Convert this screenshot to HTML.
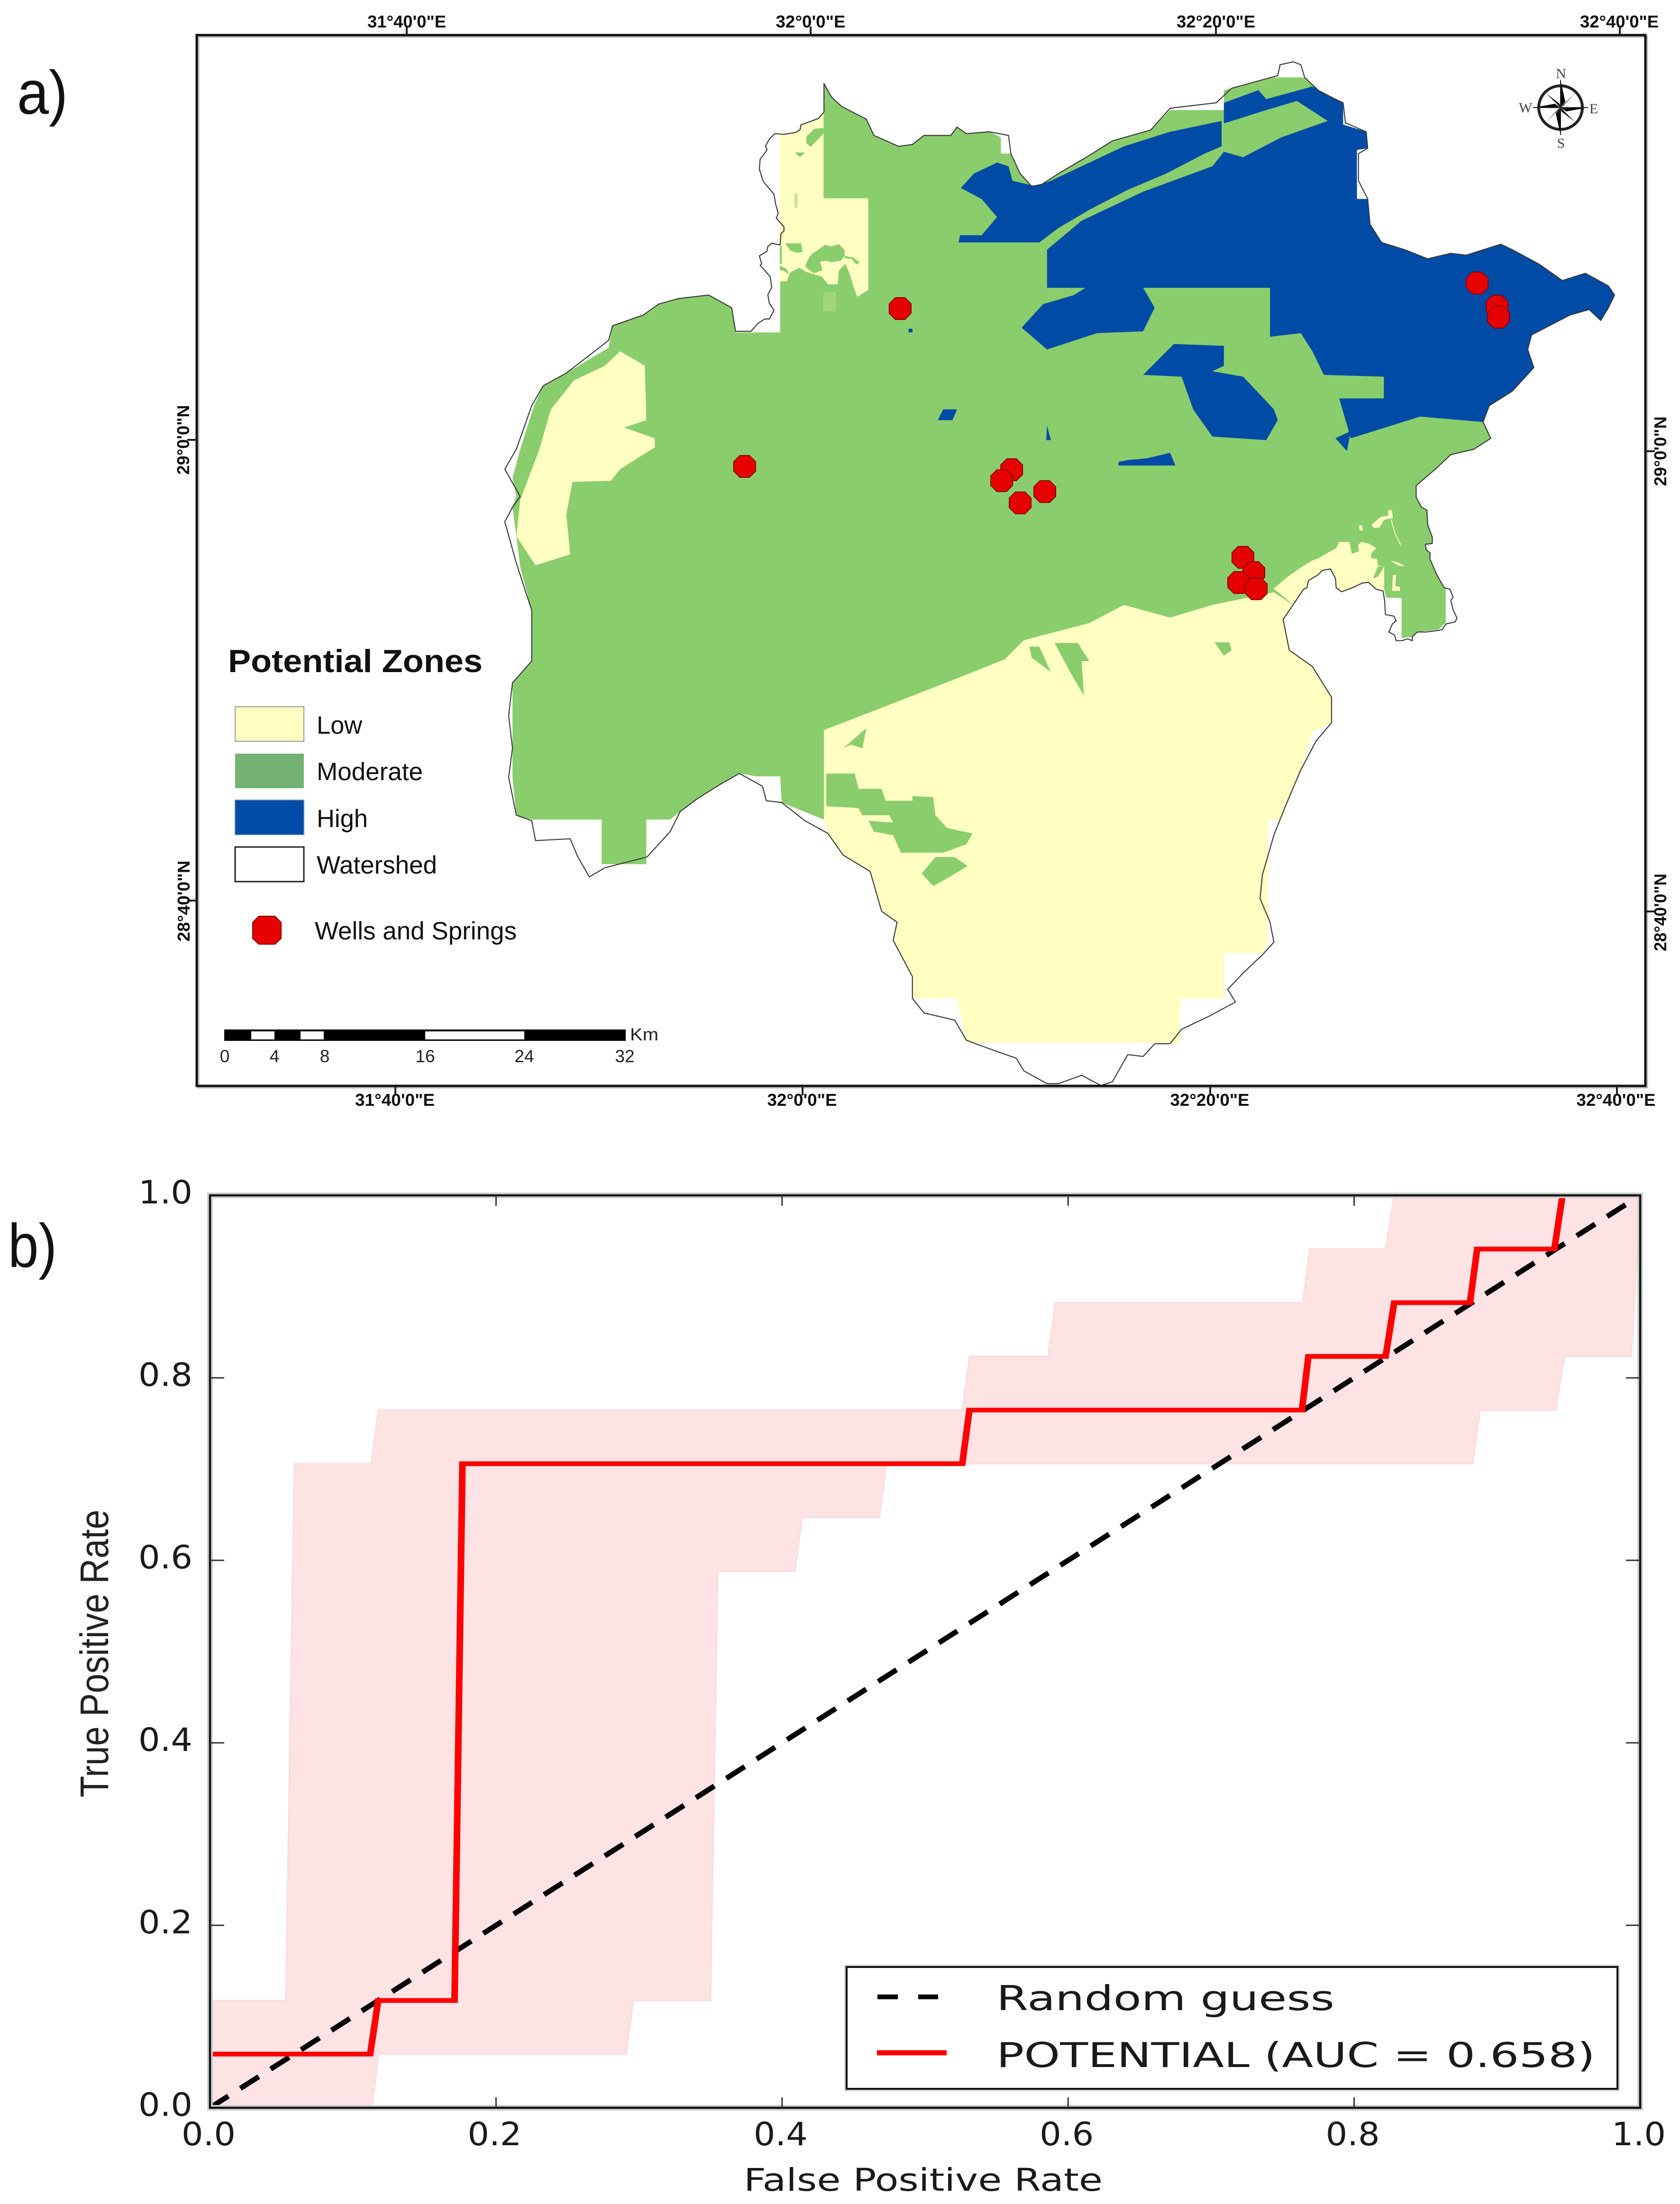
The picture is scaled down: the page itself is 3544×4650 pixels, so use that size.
<!DOCTYPE html>
<html lang="en">
<head>
<meta charset="utf-8">
<title>Potential zones map and ROC curve</title>
<style>
html,body{margin:0;padding:0;background:#fff;}
svg{display:block;}
text{font-family:"Liberation Sans",sans-serif;}
.dv{font-family:"DejaVu Sans",sans-serif;fill:#1a1a1a;}
.maplab{font-weight:bold;font-size:36px;fill:#111;}
.leg{font-size:53px;fill:#111;}
.sb{font-size:37px;fill:#222;}
.cmp{font-size:30px;fill:#444;}
.cmp text{font-family:"Liberation Serif",serif;}
</style>
</head>
<body>
<svg id="fig" xmlns="http://www.w3.org/2000/svg" width="3544" height="4650" viewBox="0 0 3544 4650">
<rect width="3544" height="4650" fill="#fff"/>

<text x="36" y="240" font-size="130" textLength="107" lengthAdjust="spacingAndGlyphs" fill="#111">a)</text>
<text x="17" y="2673" font-size="130" textLength="103" lengthAdjust="spacingAndGlyphs" fill="#111">b)</text>

<!-- MAP -->
<g>
<g transform="translate(1000,60) scale(1.6224,.7653)">
<polygon fill="#8acd6c" points="455,152 465,190 478,215 510,250 520,295 552,325 570,320 585,295 620,295 628,272 640,290 670,285 685,300 685,345 698,345 710,400 725,435 738,430 760,400 800,350 830,310 880,280 905,225 975,225 975,170 1040,135 1080,135 1100,175 1130,205 1130,265 1160,285 1162,330 1148,335 1148,470 1162,470 1165,540 1180,590 1210,610 1240,635 1270,620 1290,625 1335,595 1350,610 1385,650 1415,695 1445,675 1475,710 1483,735 1475,770 1465,805 1450,775 1425,790 1375,845 1370,885 1378,935 1350,1000 1320,1040 1312,1085 1322,1130 1300,1160 1270,1175 1250,1215 1225,1260 1225,1293 1232,1320 1239,1328 1240,1368 1246,1403 1246,1420 1237,1422 1238,1437 1243,1446 1243,1463 1252,1507 1259,1533 1263.5,1546 1263.5,1638 1254,1657 1226.5,1664 1220,1677 1206,1681 1206,1570 1186.5,1570 1183,1544 1173,1546 1163,1527 1155,1529 1142,1542 1128,1553 1121,1542 1120,1516 1113.5,1490 1103,1494 1097,1507 1085,1522 1083,1542 1078.6,1546 1065,1589 1052,1629 1060,1714 1090,1759 1115,1844 1115,1914 1090,1939 1075,2044 1055,2144 1050,2181 1032,2181 1032,2519 1025,2549 975,2549 975,2674 918,2674 918,2794 640,2796 628,2674 570,2674 570,2614 545,2514 550,2464 530,2434 515,2324 480,2279 460,2219 455,2181 400,2134 398,2062 368,2062 345,2054 320,2084 290,2124 268,2159 255,2181 224,2181 224,2304 166,2304 166,2181 75,2181 55,2169 50,2064 50,1804 75,1744 75,1604 60,1484 55,1400 50,1320 55,1290 50,1240 60,1160 78,1040 90,985 120,950 175,880 180,820 220,790 240,760 265,745 305,735 335,770 340,838 398,838 398,300 440,280 455,230"/>
<polygon fill="#ffffc1" points="190,890 222,930 224,1080 195,1100 235,1130 235,1155 190,1215 178,1247 128,1250 120,1340 125,1450 80,1480 55,1400 60,1300 85,1160 100,1050 130,970 170,930"/>
<polygon fill="#004ba5" points="633,440 650,400 680,370 695,380 700,420 730,435 750,420 800,370 845,325 905,285 972,255 972,325 950,345 900,400 850,445 800,500 760,550 735,590 630,590 632,570 660,570 680,520 660,470"/>
<polygon fill="#004ba5" points="745,610 790,530 870,450 960,380 975,340 1000,355 1050,300 1110,255 1070,200 1030,225 975,262 975,205 1020,170 1030,195 1090,160 1130,205 1130,265 1160,285 1162,330 1148,335 1148,470 1162,470 1165,540 1180,590 1210,610 1240,635 1270,620 1290,625 1335,595 1350,610 1385,650 1415,695 1445,675 1475,710 1483,735 1475,770 1465,805 1450,775 1425,790 1375,845 1370,885 1378,935 1350,1000 1320,1040 1312,1085 1230,1070 1140,1130 1125,1020 1183,1020 1183,960 1105,955 1090,890 1075,840 1035,850 1035,715 870,715 885,770 870,835 810,840 745,885 712,825 740,760 780,735 795,715 745,715"/>
<polygon fill="#004ba5" points="870,955 910,870 975,875 975,930 960,945 1000,960 1040,1050 1045,1080 1030,1135 960,1125 935,1050 920,960"/>
<polygon fill="#004ba5" points="610,1050 628,1050 622,1080 603,1080"/>
<polygon fill="#004ba5" points="745,1095 750,1135 744,1135"/>
<polygon fill="#004ba5" points="1120,1130 1140,1110 1135,1165"/>
<polygon fill="#004ba5" points="838,1195 850,1190 875,1185 905,1170 912,1205 838,1205"/>
<polygon fill="#004ba5" points="565,828 570,828 570,838 565,838"/>
</g>
<g transform="translate(1000,1150) scale(1.6224,.7653)">
<polygon fill="#ffffc1" points="455,510 510,465 625,370 690,315 715,262 800,215 845,165 905,200 960,165 1040,130 1065,165 1052,205 1060,290 1090,335 1115,420 1115,490 1090,515 1075,620 1055,720 1050,757 1032,757 1032,1095 1025,1125 975,1125 975,1250 918,1250 918,1372 640,1372 628,1250 570,1250 570,1190 545,1090 550,1040 530,1010 515,900 480,855 460,795 455,757"/>
<polygon fill="#8acd6c" points="458,630 495,630 500,672 530,672 535,705 570,705 570,692 597,695 600,745 615,780 648,795 640,825 610,848 555,848 545,800 520,790 513,760 545,765 540,745 505,745 500,725 458,720"/>
<polygon fill="#8acd6c" points="600,860 625,860 642,885 610,925 597,940 582,905"/>
<polygon fill="#8acd6c" points="755,270 785,270 800,320 790,320 793,415 775,350"/>
<polygon fill="#8acd6c" points="722,280 735,280 750,350 725,310"/>
<polygon fill="#8acd6c" points="963,268 982,268 985,290 975,305"/>
<polygon fill="#8acd6c" points="480,560 510,505 505,560 490,550"/>
</g>
<g transform="translate(1600,250) scale(.33333)">
<polygon fill="#ffffc1" points="135,100 240,95 270,45 360,15 412,-40 412,505 695,505 695,1085 625,1130 600,1060 580,990 550,920 510,960 500,1050 440,1050 400,1000 300,970 260,945 200,975 180,1030 135,1030"/>
<polygon fill="#8acd6c" points="303,115 355,65 412,60 412,95 360,150 330,180 303,155"/>
<polygon fill="#8acd6c" points="230,215 295,215 262,245"/>
<polygon fill="#8acd6c" points="170,790 270,790 280,845 245,850 200,835"/>
<polygon fill="#8acd6c" points="365,840 420,800 460,810 510,795 545,835 545,870 520,900 460,910 430,900 390,905 405,960 350,980 310,950 295,935 320,880 340,855"/>
<polygon fill="#8acd6c" points="135,930 175,950 195,985 150,960 135,960"/>
<polygon fill="#8acd6c" points="545,870 600,880 640,910 620,925 590,890 545,885"/>
<polygon fill="#8acd6c" points="135,810 148,810 148,920 135,920"/>
<rect x="410" y="1100" width="80" height="120" fill="#a3d67c"/>
<rect x="228" y="475" width="20" height="90" fill="#cfe39a"/>
</g>
<g transform="translate(2750,1050) scale(.33333)">
<polygon fill="#ffffc1" points="-190,576 -100,500 0,430 50,400 100,380 150,350 205,320 225,280 290,280 300,330 305,355 350,340 345,300 365,280 410,290 460,320 430,350 425,380 465,390 470,430 510,435 510,575 505,590 460,580 410,535 370,540 310,570 240,595 205,570 200,510 170,450 120,460 90,490 30,525 20,570 0,580 -65,678"/>
<polygon fill="#ffffc1" points="350,175 370,175 375,210 355,205"/>
<polygon fill="#ffffc1" points="430,170 490,120 535,115 535,80 560,80 565,130 510,140 480,190 440,190"/>
<polygon fill="#ffffc1" points="565,490 585,490 580,560 610,565 610,590 560,590"/>
<polygon fill="#ffffc1" points="550,400 600,410 640,435 600,430"/>
<polyline fill="none" stroke="#ffffc1" stroke-width="6" points="555,140 580,230 615,300"/>
<polygon fill="#8acd6c" points="470,435 510,435 470,500 440,510"/>
</g>
<g transform="translate(1000,60) scale(1.6224,.7653)">
<polygon fill="none" stroke="#3a3a3a" stroke-width="2.2" vector-effect="non-scaling-stroke" stroke-linejoin="round" points="455,152 465,190 478,215 510,250 520,295 552,325 570,320 585,295 620,295 628,272 640,290 670,285 695,295 698,345 710,400 725,435 738,430 760,400 800,350 830,310 880,280 905,220 965,205 985,165 1045,130 1048,100 1065,92 1075,100 1080,135 1100,175 1130,205 1133,260 1160,285 1162,330 1150,345 1150,420 1162,470 1165,540 1180,590 1210,610 1240,635 1270,620 1290,625 1335,595 1350,610 1385,650 1415,695 1445,675 1475,710 1483,735 1475,770 1465,805 1450,775 1425,790 1375,845 1370,885 1378,935 1350,1000 1320,1040 1312,1085 1322,1130 1300,1160 1270,1175 1250,1215 1225,1260 1225,1293 1232,1320 1239,1328 1240,1368 1246,1403 1246,1420 1237,1422 1238,1437 1243,1446 1243,1463 1252,1507 1259,1533 1261.5,1542 1269,1546 1273,1568 1270,1577 1273,1603 1278,1625 1276,1635.5 1263.5,1642 1259,1657 1254,1659.5 1238,1664 1226.5,1664 1220,1677 1220,1688 1214,1683 1206,1688 1199,1688 1197,1672.5 1189.5,1664 1194,1642 1199,1633 1196,1620 1185,1616 1184,1577 1182,1551 1173,1546 1163,1527 1155,1529 1142,1542 1128,1553 1121,1542 1120,1516 1113.5,1490 1103,1494 1097,1507 1085,1522 1083,1542 1078.6,1546 1065,1589 1052,1629 1060,1714 1090,1759 1115,1844 1115,1914 1095,1964 1075,2044 1055,2144 1040,2224 1025,2334 1022,2399 1035,2464 1040,2519 1025,2554 1000,2604 980,2649 990,2684 955,2724 920,2759 905,2799 885,2799 870,2834 850,2829 830,2904 815,2914 790,2886 760,2909 745,2909 715,2874 705,2839 665,2809 640,2789 625,2734 585,2714 570,2674 570,2614 545,2514 550,2464 530,2434 515,2324 480,2279 460,2219 430,2184 400,2134 380,2129 375,2089 345,2054 320,2084 290,2124 268,2159 255,2214 225,2284 170,2314 150,2339 135,2284 125,2234 80,2239 75,2184 55,2169 45,2064 50,1984 45,1894 50,1804 75,1744 75,1604 55,1474 40,1360 50,1320 60,1290 40,1215 55,1160 75,1040 90,985 120,950 175,860 180,820 220,790 240,760 265,745 305,735 335,770 340,835 360,835 369.8,812 378,801 384,801 390,777 384,758 382,734 387,714 385,684 372,653 374,649 371,627 381,614 382,601 387,592 398,597 399,566 403,558 403,547 393,523 395.5,510 392,483 390,457 376,422 371,388 372,361 381,335 379,324 384,305 391,290 403,292 418,287 424,279 425,266 448,248 455,230"/>
</g>
<g id="wells"></g>
</g>

<!-- map frame and graticule -->
<g>
<rect x="418" y="77" width="3056" height="2217" fill="none" stroke="#bbb" stroke-width="5"/>
<rect x="415" y="74" width="3056" height="2217" fill="none" stroke="#111" stroke-width="5"/>
<g stroke="#222" stroke-width="4">
<line x1="858" y1="56" x2="858" y2="74"/>
<line x1="1710" y1="56" x2="1710" y2="74"/>
<line x1="2565" y1="56" x2="2565" y2="74"/>
<line x1="3417" y1="56" x2="3417" y2="74"/>
<line x1="834" y1="2291" x2="834" y2="2311"/>
<line x1="1693" y1="2291" x2="1693" y2="2311"/>
<line x1="2553" y1="2291" x2="2553" y2="2311"/>
<line x1="3411" y1="2291" x2="3411" y2="2311"/>
<line x1="395" y1="928" x2="415" y2="928"/>
<line x1="395" y1="1900" x2="415" y2="1900"/>
<line x1="3471" y1="952" x2="3491" y2="952"/>
<line x1="3471" y1="1923" x2="3491" y2="1923"/>
</g>
<g class="maplab" text-anchor="middle">
<text x="858" y="58" textLength="166" lengthAdjust="spacingAndGlyphs">31°40'0"E</text>
<text x="1710" y="58" textLength="147" lengthAdjust="spacingAndGlyphs">32°0'0"E</text>
<text x="2565" y="58" textLength="166" lengthAdjust="spacingAndGlyphs">32°20'0"E</text>
<text x="3416" y="58" textLength="166" lengthAdjust="spacingAndGlyphs">32°40'0"E</text>
<text x="833" y="2333" textLength="168" lengthAdjust="spacingAndGlyphs">31°40'0"E</text>
<text x="1692" y="2333" textLength="147" lengthAdjust="spacingAndGlyphs">32°0'0"E</text>
<text x="2552" y="2333" textLength="167" lengthAdjust="spacingAndGlyphs">32°20'0"E</text>
<text x="3409" y="2333" textLength="167" lengthAdjust="spacingAndGlyphs">32°40'0"E</text>
<text transform="translate(399,928) rotate(-90)" textLength="147" lengthAdjust="spacingAndGlyphs">29°0'0"N</text>
<text transform="translate(400,1901) rotate(-90)" textLength="171" lengthAdjust="spacingAndGlyphs">28°40'0"N</text>
<text transform="translate(3515,952) rotate(-90)" textLength="147" lengthAdjust="spacingAndGlyphs">29°0'0"N</text>
<text transform="translate(3515,1925) rotate(-90)" textLength="164" lengthAdjust="spacingAndGlyphs">28°40'0"N</text>
</g>
</g>

<!-- compass -->
<g transform="translate(3292,227)">
<circle r="46" fill="none" stroke="#222" stroke-width="6"/>
<polygon fill="#000" points="0,-58 10,-12 0,0"/>
<polygon fill="#000" points="0,58 -10,12 0,0"/>
<polygon fill="#000" points="58,0 12,8 0,0"/>
<polygon fill="#000" points="-58,0 -12,-8 0,0"/>
<polygon fill="#000" points="-30,-30 -2,-8 0,0"/>
<polygon fill="#000" points="30,30 2,8 0,0"/>
<polygon fill="#000" points="30,-30 6,-4 0,0"/>
<polygon fill="#000" points="-30,30 -6,4 0,0"/>
<line x1="0" y1="-58" x2="0" y2="58" stroke="#222" stroke-width="2"/>
<line x1="-58" y1="0" x2="58" y2="0" stroke="#222" stroke-width="2"/>
<g class="cmp" text-anchor="middle">
<text x="1" y="-62">N</text>
<text x="1" y="85">S</text>
<text x="-74" y="10">W</text>
<text x="70" y="12">E</text>
</g>
</g>

<!-- map legend -->
<g>
<text x="481" y="1418" font-size="68" font-weight="bold" fill="#111" textLength="537" lengthAdjust="spacingAndGlyphs">Potential Zones</text>
<rect x="496" y="1491" width="145" height="73" fill="#ffffc1" stroke="#999" stroke-width="2"/>
<rect x="496" y="1590" width="145" height="73" fill="#74b274"/>
<rect x="496" y="1688" width="145" height="73" fill="#004ba5" stroke="#6585b0" stroke-width="2"/>
<rect x="496" y="1787" width="145" height="73" fill="#fff" stroke="#222" stroke-width="3"/>
<g class="leg">
<text x="668" y="1548" textLength="96" lengthAdjust="spacingAndGlyphs">Low</text>
<text x="668" y="1646" textLength="224" lengthAdjust="spacingAndGlyphs">Moderate</text>
<text x="668" y="1745" textLength="108" lengthAdjust="spacingAndGlyphs">High</text>
<text x="668" y="1843" textLength="254" lengthAdjust="spacingAndGlyphs">Watershed</text>
<text x="664" y="1982" textLength="426" lengthAdjust="spacingAndGlyphs">Wells and Springs</text>
</g>
<polygon fill="#e60000" stroke="#8b0000" stroke-width="2" points="546,1933 580,1933 593,1946 593,1980 580,1992 546,1992 533,1980 533,1946"/>
</g>

<!-- scale bar -->
<g>
<rect x="473" y="2172" width="847" height="24" fill="#000"/>
<rect x="530" y="2176" width="49" height="17" fill="#fff"/>
<rect x="634" y="2176" width="49" height="17" fill="#fff"/>
<rect x="897" y="2176" width="209" height="17" fill="#fff"/>
<g class="sb" text-anchor="middle">
<text x="474" y="2241">0</text>
<text x="579" y="2241">4</text>
<text x="685" y="2241">8</text>
<text x="897" y="2241">16</text>
<text x="1106" y="2241">24</text>
<text x="1318" y="2241">32</text>
</g>
<text class="sb" x="1329" y="2195" textLength="60" lengthAdjust="spacingAndGlyphs">Km</text>
</g>

<!-- ROC chart -->
<g id="roc"></g>

<script>
var wellLon = [32.0767,31.9490,32.1683,32.1601,32.1955,32.1753,32.5507,32.5670,32.5682,32.3583,32.3672,32.3548,32.3692];
var wellLat = [29.0991,28.9849,28.9825,28.9746,28.9667,28.9585,29.1176,29.1008,29.0929,28.9191,28.9081,28.9009,28.8964];

var meanFpr = [0,0.112,0.1176,0.171,0.1765,0.526,0.531,0.7635,0.768,0.822,0.828,0.881,0.886,0.940,0.9457,1];
var meanTpr = [0.0588,0.0588,0.1176,0.1176,0.7059,0.7059,0.7647,0.7647,0.8235,0.8235,0.8824,0.8824,0.9412,0.9412,1,1];
var upperFpr = [0,0.053,0.059,0.1127,0.1177,0.526,0.531,0.586,0.591,0.764,0.769,0.822,0.828,1];
var upperTpr = [0.1176,0.1176,0.7059,0.7059,0.7647,0.7647,0.8235,0.8235,0.8824,0.8824,0.9412,0.9412,1,1];
var lowerFpr = [0,0.113,0.118,0.291,0.296,0.35,0.355,0.409,0.414,0.468,0.473,0.883,0.888,0.941,0.947,0.994,1];
var lowerTpr = [0,0,0.0588,0.0588,0.1176,0.1176,0.588,0.588,0.647,0.647,0.7059,0.7059,0.7647,0.7647,0.8235,0.8235,1];
var guessFpr = [0,1];
var guessTpr = [0,1];
var tickValues = [0,0.2,0.4,0.6,0.8,1];
var tickLabels = ["0.0","0.2","0.4","0.6","0.8","1.0"];
var legendLabels = ["Random guess","POTENTIAL (AUC = 0.658)"];

var NS = "http://www.w3.org/2000/svg";
var STRETCH = 1.4;
function make(tag, attrs, parent, txt){
  var e = document.createElementNS(NS, tag);
  for (var k in attrs) e.setAttribute(k, attrs[k]);
  if (txt) e.textContent = txt;
  parent.appendChild(e);
  return e;
}
function lonX(lon){ return 846 + (lon - 31.6667) * 2568; }
function latY(lat){ return 940 + (29 - lat) * 2916; }
function rocX(v){ return 443 + v * 3017; }
function rocY(v){ return 4447 - v * 1925; }
function pts(xs, ys){
  return xs.map(function(x,i){ return rocX(x).toFixed(1) + "," + rocY(ys[i]).toFixed(1); });
}
function ptsStretched(xs, ys){
  return xs.map(function(x,i){ return (rocX(x)/STRETCH).toFixed(2) + "," + rocY(ys[i]).toFixed(1); });
}

var wells = document.getElementById("wells");
wellLon.forEach(function(lon,i){
  var cx = lonX(lon), cy = latY(wellLat[i]), r = 23, s = 10;
  var p = [[-s,-r],[s,-r],[r,-s],[r,s],[s,r],[-s,r],[-r,s],[-r,-s]].map(function(q){ return (cx+q[0]).toFixed(1)+","+(cy+q[1]).toFixed(1); }).join(" ");
  var o = make("polygon",{points:p,fill:"#e60000",stroke:"#8b0000","stroke-width":2},wells);
  
  
});

var roc = document.getElementById("roc");
var band = make("polygon",{points:pts(upperFpr,upperTpr).concat(pts(lowerFpr,lowerTpr).reverse()).join(" "),fill:"#fee3e4",stroke:"#fddcdc","stroke-width":3},roc);



var guess = make("polyline",{points:pts(guessFpr,guessTpr).join(" "),fill:"none",stroke:"#000","stroke-width":11,"stroke-dasharray":"46 30"},roc);



var curve = make("polyline",{points:ptsStretched(meanFpr,meanTpr).join(" "),transform:"scale("+STRETCH+",1)",fill:"none",stroke:"#ff0000","stroke-width":10,"stroke-linejoin":"miter"},roc);



var halo = make("rect",{x:443,y:2522,width:3017,height:1925,fill:"none",stroke:"#cfcfcf","stroke-width":12},roc);


var frame = make("rect",{x:443,y:2522,width:3017,height:1925,fill:"none",stroke:"#111","stroke-width":4.5},roc);



tickValues.forEach(function(v,i){
  if (v > 0 && v < 1) {
    var a = make("line",{x1:rocX(v),x2:rocX(v),y1:2522,y2:2544,stroke:"#333","stroke-width":3},roc);
    
    
    var b = make("line",{x1:rocX(v),x2:rocX(v),y1:4425,y2:4447,stroke:"#333","stroke-width":3},roc);
    
    
    var c = make("line",{x1:443,x2:473,y1:rocY(v),y2:rocY(v),stroke:"#333","stroke-width":3},roc);
    
    
    var d = make("line",{x1:3430,x2:3460,y1:rocY(v),y2:rocY(v),stroke:"#333","stroke-width":3},roc);
    
    
  }
  var tx = make("text",{x:rocX(v)-3,y:4526,"class":"dv","font-size":68,"text-anchor":"middle",textLength:114,lengthAdjust:"spacingAndGlyphs"},roc,tickLabels[i]);
  
  
  var ty = make("text",{x:349,y:rocY(v)+17,"class":"dv","font-size":68,"text-anchor":"middle",textLength:114,lengthAdjust:"spacingAndGlyphs"},roc,tickLabels[i]);
  
  
});

var xt = make("text",{x:1569,y:4622,"class":"dv","font-size":66,textLength:757,lengthAdjust:"spacingAndGlyphs"},roc,"False Positive Rate");


var yt = make("text",{transform:"translate(228,3792) rotate(-90)","font-size":84,fill:"#222",textLength:607,lengthAdjust:"spacingAndGlyphs"},roc,"True Positive Rate");



var lgHalo = make("rect",{x:1786,y:4150,width:1626,height:257,fill:"#fff",stroke:"#cfcfcf","stroke-width":10},roc);


var lg = make("rect",{x:1786,y:4150,width:1626,height:257,fill:"#fff",stroke:"#111","stroke-width":4},roc);


var l1 = make("line",{x1:1851,x2:1979,y1:4213,y2:4213,stroke:"#000","stroke-width":10,"stroke-dasharray":"43 43"},roc);


var l2 = make("line",{x1:1850,x2:1997,y1:4331,y2:4331,stroke:"#ff0000","stroke-width":11},roc);


var t1 = make("text",{x:2102,y:4241,"class":"dv","font-size":72,textLength:713,lengthAdjust:"spacingAndGlyphs"},roc,legendLabels[0]);


var t2 = make("text",{x:2102,y:4361,"class":"dv","font-size":72,textLength:1263,lengthAdjust:"spacingAndGlyphs"},roc,legendLabels[1]);


</script>
</svg>
</body>
</html>
